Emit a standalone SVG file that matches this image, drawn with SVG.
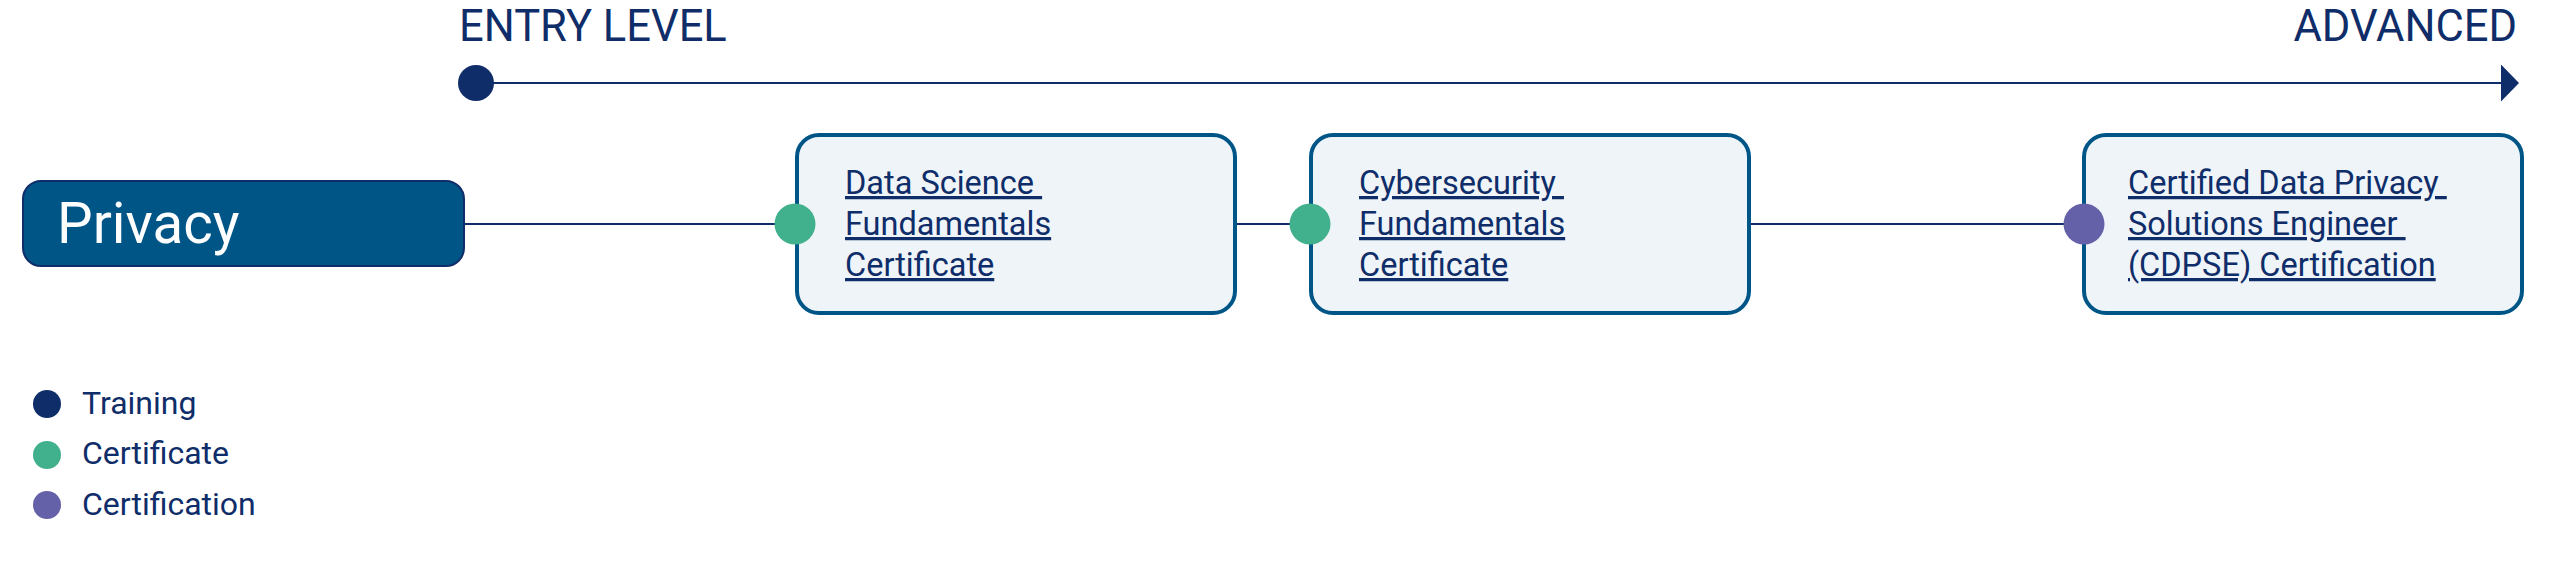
<svg xmlns="http://www.w3.org/2000/svg" width="2560" height="583" viewBox="0 0 2560 583">
  <style>
    .hdr { font-family: Roboto, "Liberation Sans", sans-serif; font-size: 43.5px; fill: #0f2d69; }
    .box { fill: #eef4f8; stroke: #005587; stroke-width: 4; }
    .lbl { font-family: Roboto, "Liberation Sans", sans-serif; font-size: 32.5px; fill: #0f2d69; text-decoration: underline; white-space: pre; }
    .leg { font-family: Roboto, "Liberation Sans", sans-serif; font-size: 32px; fill: #0f2d69; }
    .conn { stroke: #0f2d69; stroke-width: 2; fill: none; }
    .training { fill: #0f2d69; }
    .cert { fill: #41b08c; }
    .certn { fill: #6561a8; }
  </style>
  <defs>
    <marker id="arrow" markerWidth="18" markerHeight="37" refX="0" refY="18.5" orient="auto" markerUnits="userSpaceOnUse">
      <path d="M0,0 L18,18.5 L0,37 Z" fill="#0f2d69"/>
    </marker>
  </defs>
  <rect width="2560" height="583" fill="#ffffff"/>

  <g id="timeline">
    <text class="hdr" x="459" y="41">ENTRY LEVEL</text>
    <text class="hdr" x="2517" y="41" text-anchor="end">ADVANCED</text>
    <line class="conn" x1="476" y1="83" x2="2501" y2="83" marker-end="url(#arrow)"/>
    <circle class="training" cx="476" cy="83" r="18"/>
  </g>

  <g id="connectors">
    <line class="conn" x1="464" y1="224" x2="776" y2="224"/>
    <line class="conn" x1="1235" y1="224" x2="1291" y2="224"/>
    <line class="conn" x1="1749" y1="224" x2="2065" y2="224"/>
  </g>

  <g id="privacy">
    <rect x="23" y="181" width="441" height="85" rx="18" ry="18" fill="#005587" stroke="#0f2d69" stroke-width="2"/>
    <text x="57" y="243" font-family="Roboto, 'Liberation Sans', sans-serif" font-size="56.5" fill="#ffffff">Privacy</text>
  </g>

  <g id="data-science">
    <rect class="box" x="797" y="135" width="438" height="178" rx="22" ry="22"/>
    <circle class="cert" cx="795" cy="224" r="20.5"/>
    <text class="lbl" x="845" y="194" xml:space="preserve">Data Science </text>
    <text class="lbl" x="845" y="235">Fundamentals</text>
    <text class="lbl" x="845" y="276">Certificate</text>
  </g>

  <g id="cybersecurity">
    <rect class="box" x="1311" y="135" width="438" height="178" rx="22" ry="22"/>
    <circle class="cert" cx="1310" cy="224" r="20.5"/>
    <text class="lbl" x="1359" y="194" xml:space="preserve">Cybersecurity </text>
    <text class="lbl" x="1359" y="235">Fundamentals</text>
    <text class="lbl" x="1359" y="276">Certificate</text>
  </g>

  <g id="cdpse">
    <rect class="box" x="2084" y="135" width="438" height="178" rx="22" ry="22"/>
    <circle class="certn" cx="2084" cy="224" r="20.5"/>
    <text class="lbl" x="2128" y="194" xml:space="preserve">Certified Data Privacy </text>
    <text class="lbl" x="2128" y="235" xml:space="preserve">Solutions Engineer </text>
    <text class="lbl" x="2128" y="276">(CDPSE) Certification</text>
  </g>

  <g id="legend">
    <circle class="training" cx="47" cy="404" r="14"/>
    <text class="leg" x="82" y="414">Training</text>
    <circle class="cert" cx="47" cy="455" r="14"/>
    <text class="leg" x="82" y="464">Certificate</text>
    <circle class="certn" cx="47" cy="505" r="14"/>
    <text class="leg" x="82" y="515">Certification</text>
  </g>
</svg>
